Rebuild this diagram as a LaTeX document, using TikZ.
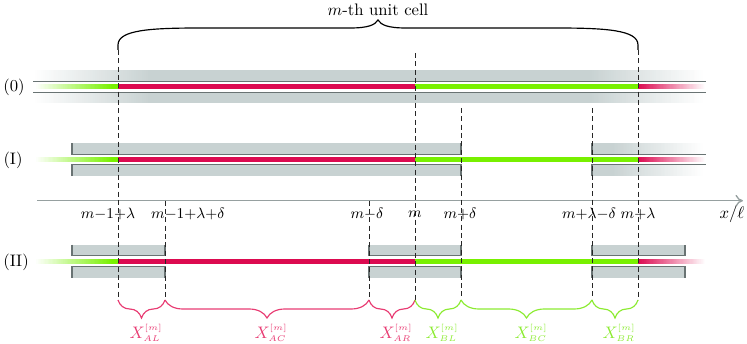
\documentclass[tikz,border=0pt]{standalone}
\usetikzlibrary{decorations.pathreplacing,arrows.meta}
\definecolor{redline}{RGB}{220,10,80}
\definecolor{greenline}{RGB}{120,240,0}
\definecolor{bandgray}{RGB}{200,210,210}
\definecolor{tubegray}{RGB}{105,115,115}
\definecolor{axisgray}{RGB}{150,160,160}
\definecolor{labred}{RGB}{232,60,115}
\definecolor{labgreen}{RGB}{140,235,50}
% horizontal fade made of thin strips: x1, x2, y1, y2, colour at x1, colour at x2
\newcommand\hfade[6]{%
  \foreach \k in {0,...,59} {%
    \pgfmathsetmacro\xa{#1+(#2-#1)*\k/60}%
    \pgfmathsetmacro\xb{#1+(#2-#1)*(\k+1)/60+0.4}%
    \pgfmathtruncatemacro\pp{100*(\k+0.5)/60}%
    \fill[#6!\pp!#5] (\xa,#3) rectangle (\xb,#4);
  }%
}
\newcommand\pipebox[3]{%
  \fill[bandgray] ({#1},{#3-16.5}) rectangle ({#2},{#3-5.3});
  \fill[bandgray] ({#1},{#3+5.3}) rectangle ({#2},{#3+16.5});
  \draw[tube] ({#1},{#3-16.5}) -- ({#1},{#3-5.3}) -- ({#2},{#3-5.3}) -- ({#2},{#3-16.5});
  \draw[tube] ({#1},{#3+16.5}) -- ({#1},{#3+5.3}) -- ({#2},{#3+5.3}) -- ({#2},{#3+16.5});
}
\newcommand\colorline[1]{%
  \pgfmathsetmacro\ya{#1-2.5}%
  \pgfmathsetmacro\yb{#1+2.5}%
  \hfade{35}{112}{\ya}{\yb}{white}{greenline}
  \fill[greenline] (112,\ya) rectangle (118,\yb);
  \fill[redline] (118,\ya) rectangle (415,\yb);
  \fill[greenline] (415,\ya) rectangle (638,\yb);
  \hfade{638}{705}{\ya}{\yb}{redline}{white}
}
\begin{document}
\begin{tikzpicture}[x=0.6pt,y=-0.6pt,
  tube/.style={draw=tubegray, line width=0.8pt},
  dline/.style={draw=black!85, dash pattern=on 3pt off 2pt, line width=0.6pt},
  axisline/.style={draw=axisgray, line width=0.8pt, -{To[length=4.5pt,width=7pt]}},
  ticklabel/.style={font=\small, inner sep=1pt},
  rowlabel/.style={font=\normalsize, inner sep=0pt},
  redbrace/.style={draw=labred, line width=0.7pt, decorate, decoration={brace, mirror, amplitude=10.8pt}},
  greenbrace/.style={draw=labgreen, line width=0.7pt, decorate, decoration={brace, mirror, amplitude=10.8pt}},
  bracelab/.style={inner sep=0pt}
]
\useasboundingbox (0,0) rectangle (747,344);

% ---------- row (0)
\hfade{33}{150}{70.5}{81.7}{white}{bandgray}
\hfade{33}{150}{92.3}{103.5}{white}{bandgray}
\fill[bandgray] (150,70.5) rectangle (590,81.7);
\fill[bandgray] (150,92.3) rectangle (590,103.5);
\hfade{590}{703}{70.5}{81.7}{bandgray}{white}
\hfade{590}{703}{92.3}{103.5}{bandgray}{white}
\draw[tube] (33,81.7) -- (706,81.7);
\draw[tube] (33,92.3) -- (706,92.3);
\colorline{87}

% ---------- row (I)
\pipebox{72}{461}{159.5}
\fill[bandgray] (592,143) rectangle (612,154.2);
\fill[bandgray] (592,164.8) rectangle (612,176);
\hfade{612}{703}{143}{154.2}{bandgray}{white}
\hfade{612}{703}{164.8}{176}{bandgray}{white}
\draw[tube] (592,143) -- (592,154.2) -- (706,154.2);
\draw[tube] (592,176) -- (592,164.8) -- (706,164.8);
\colorline{159.5}

% ---------- row (II)
\pipebox{72}{165}{261}
\pipebox{369}{461}{261}
\pipebox{592}{685}{261}
\colorline{261}

% ---------- axis
\coordinate (axL) at (37,200.7);
\coordinate (axR) at (743,200.7);
\draw[axisline] (axL) -- (axR);
\node[inner sep=0pt] (xl) at (732,214) {$x/\ell$};

% ---------- dashed lines
\coordinate (t1) at (118,50);   \coordinate (b1) at (118,300);
\coordinate (t2) at (165,200.7);\coordinate (b2) at (165,300);
\coordinate (t3) at (369,200.7);\coordinate (b3) at (369,300);
\coordinate (t4) at (415,53);   \coordinate (b4) at (415,300);
\coordinate (t5) at (461,108);  \coordinate (b5) at (461,300);
\coordinate (t6) at (592,108);  \coordinate (b6) at (592,300);
\coordinate (t7) at (638,50);   \coordinate (b7) at (638,300);
\foreach \i in {1,...,7} {\draw[dline] (t\i) -- (b\i);}

% ---------- tick labels
\node[ticklabel] (l1) at (108,214) {$m{-}1{+}\lambda$};
\node[ticklabel] (l2) at (188,214) {$m{-}1{+}\lambda{+}\delta$};
\node[ticklabel] (l3) at (367,214) {$m{-}\delta$};
\node[ticklabel] (l4) at (415,214) {$m$};
\node[ticklabel] (l5) at (460,214) {$m{+}\delta$};
\node[ticklabel] (l6) at (589,214) {$m{+}\lambda{-}\delta$};
\node[ticklabel] (l7) at (638,214) {$m{+}\lambda$};

% ---------- row labels
\node[rowlabel] (r0) at (14,87) {(0)};
\node[rowlabel] (r1) at (13,160) {(I)};
\node[rowlabel] (r2) at (16,262) {(II)};

% ---------- top brace
\draw[line width=0.7pt] (t1) -- (118,45) .. controls (118,30) and (150,28) .. (200,28)
  -- (350,28) .. controls (368,28) and (375,25) .. (378,20)
  .. controls (381,25) and (388,28) .. (406,28) -- (556,28)
  .. controls (606,28) and (638,30) .. (638,45) -- (t7);
\node[inner sep=0pt] (cell) at (378,10) {$m$-th unit cell};

% ---------- bottom braces
\draw[redbrace] (b1) -- (b2);
\draw[redbrace] (b2) -- (b3);
\draw[redbrace] (b3) -- (b4);
\draw[greenbrace] (b4) -- (b5);
\draw[greenbrace] (b5) -- (b6);
\draw[greenbrace] (b6) -- (b7);
\node[bracelab, text=labred] (xal) at (146,333) {$X^{\scriptscriptstyle[m]}_{\scriptscriptstyle AL}$};
\node[bracelab, text=labred] (xac) at (271,333) {$X^{\scriptscriptstyle[m]}_{\scriptscriptstyle AC}$};
\node[bracelab, text=labred] (xar) at (396,333) {$X^{\scriptscriptstyle[m]}_{\scriptscriptstyle AR}$};
\node[bracelab, text=labgreen] (xbl) at (442,333) {$X^{\scriptscriptstyle[m]}_{\scriptscriptstyle BL}$};
\node[bracelab, text=labgreen] (xbc) at (531,333) {$X^{\scriptscriptstyle[m]}_{\scriptscriptstyle BC}$};
\node[bracelab, text=labgreen] (xbr) at (619,333) {$X^{\scriptscriptstyle[m]}_{\scriptscriptstyle BR}$};
\end{tikzpicture}
\end{document}
